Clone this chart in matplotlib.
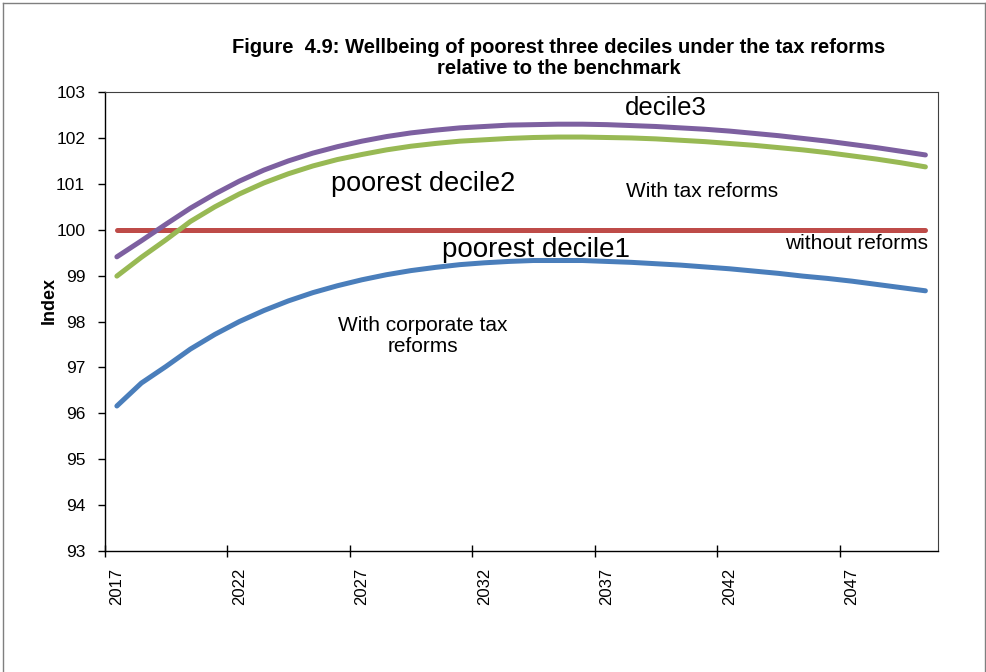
import numpy as np
import matplotlib
matplotlib.use("Agg")
import matplotlib.pyplot as plt
from matplotlib.lines import Line2D

plt.rcParams["font.family"] = ["Liberation Sans", "DejaVu Sans"]

years = list(range(2017, 2051))

decile1 = [96.16, 96.66, 97.02, 97.40, 97.72, 98.00, 98.24, 98.45, 98.63, 98.78,
           98.91, 99.02, 99.11, 99.18, 99.24, 99.28, 99.31, 99.33, 99.33, 99.33,
           99.31, 99.29, 99.26, 99.23, 99.19, 99.15, 99.10, 99.05, 98.99, 98.94,
           98.88, 98.81, 98.74, 98.67]
decile2 = [98.99, 99.40, 99.78, 100.18, 100.50, 100.78, 101.02, 101.22, 101.39, 101.53,
           101.64, 101.74, 101.82, 101.88, 101.93, 101.96, 101.99, 102.01, 102.02, 102.02,
           102.01, 102.00, 101.98, 101.95, 101.92, 101.88, 101.84, 101.79, 101.74, 101.68,
           101.61, 101.54, 101.46, 101.37]
decile3 = [99.41, 99.76, 100.12, 100.47, 100.78, 101.06, 101.30, 101.50, 101.67, 101.81,
           101.93, 102.03, 102.11, 102.17, 102.22, 102.25, 102.28, 102.29, 102.30, 102.30,
           102.29, 102.27, 102.25, 102.22, 102.19, 102.15, 102.10, 102.05, 101.99, 101.93,
           101.86, 101.79, 101.71, 101.63]
benchmark = [100.0] * len(years)

x = np.arange(len(years))

fig = plt.figure(figsize=(9.87, 6.72), dpi=100)
ax = fig.add_axes([0.106, 0.180, 0.844, 0.683])

lw = 3.6
ax.plot(x, decile1, color="#4A7EBB", lw=lw, solid_capstyle="round")
ax.plot(x, benchmark, color="#BE4B48", lw=lw, solid_capstyle="round")
ax.plot(x, decile2, color="#98B954", lw=lw, solid_capstyle="round")
ax.plot(x, decile3, color="#7D60A0", lw=lw, solid_capstyle="round")

ax.set_xlim(-0.5, len(years) - 0.5)
ax.set_ylim(93, 103)
ax.set_yticks(range(93, 104))
ax.tick_params(axis="y", direction="out", length=5, width=1, labelsize=12.5, pad=9)

# category axis: tick marks between categories, labels on every 5th year
ax.set_xticks(np.arange(-0.5, len(years) - 1, 5))
ax.set_xticklabels([])
ax.tick_params(axis="x", which="major", direction="inout", length=8, width=1)
ax.set_xticks(x[::5], minor=True)
ax.set_xticklabels([str(y) for y in years[::5]], minor=True, rotation=90)
ax.tick_params(axis="x", which="minor", length=0, labelsize=12, pad=12)

ax.set_ylabel("Index", fontsize=13, fontweight="bold")
ax.yaxis.set_label_coords(-0.056, 0.545)

for side in ["left", "bottom"]:
    ax.spines[side].set_color("black")
    ax.spines[side].set_linewidth(1)
for side in ["top", "right"]:
    ax.spines[side].set_color("#404040")
    ax.spines[side].set_linewidth(0.8)

fig.text(0.566, 0.914, "Figure  4.9: Wellbeing of poorest three deciles under the tax reforms\nrelative to the benchmark",
         ha="center", va="center", fontsize=14.5, fontweight="bold", linespacing=1.1)

ax.text(22.4, 102.65, "decile3", ha="center", va="center", fontsize=18.5)
ax.text(12.5, 101.0, "poorest decile2", ha="center", va="center", fontsize=19.5)
ax.text(23.9, 100.84, "With tax reforms", ha="center", va="center", fontsize=15)
ax.text(30.2, 99.69, "without reforms", ha="center", va="center", fontsize=15)
ax.text(17.1, 99.56, "poorest decile1", ha="center", va="center", fontsize=20)
ax.text(12.5, 97.68, "With corporate tax\nreforms", ha="center", va="center", fontsize=15,
        linespacing=1.15)

# outer chart border
fig.add_artist(Line2D([0.003, 0.003], [0.0, 0.995], color="#7f7f7f", lw=1, transform=fig.transFigure))
fig.add_artist(Line2D([0.003, 0.998], [0.995, 0.995], color="#7f7f7f", lw=1, transform=fig.transFigure))
fig.add_artist(Line2D([0.998, 0.998], [0.0, 0.995], color="#7f7f7f", lw=1, transform=fig.transFigure))

fig.savefig("out.png", dpi=100)
